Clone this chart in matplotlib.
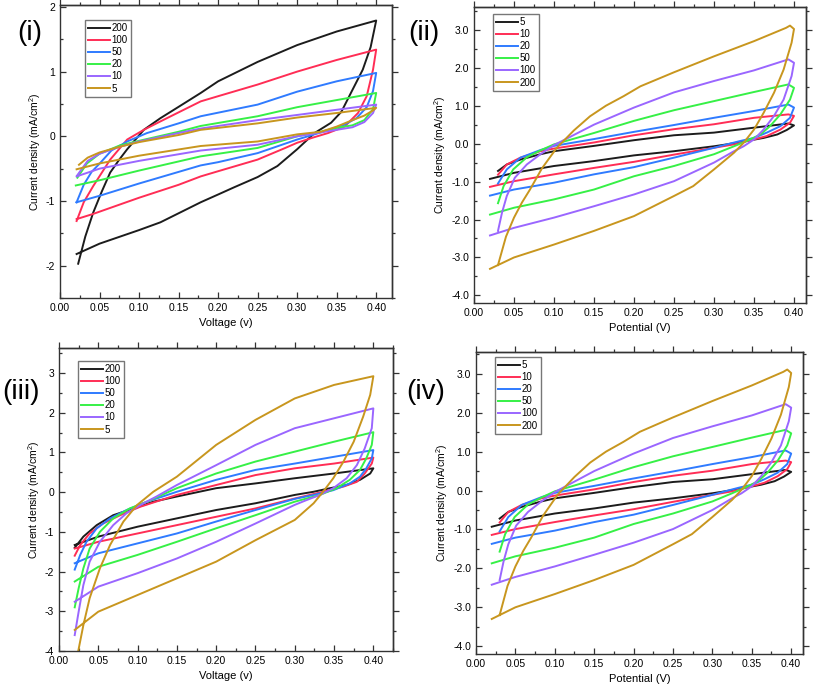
import matplotlib
matplotlib.use("Agg")
import matplotlib.pyplot as plt
from matplotlib.ticker import MultipleLocator, FormatStrFormatter

plt.rcParams['font.family'] = ['Liberation Sans', 'DejaVu Sans']
plt.rcParams['mathtext.default'] = 'regular'

# ---------------- colours per legend label ----------------
C_BLACK = '#1c1c1c'
C_RED = '#ff2d55'
C_BLUE = '#2f7bff'
C_GREEN = '#36f046'
C_PURPLE = '#9a66ff'
C_GOLD = '#c8961e'

# ---------------- Panel (i): scan rates 200,100,50,20,10,5 ----------------
P1_LABELS = ['200', '100', '50', '20', '10', '5']
P1_200_X = [0.023, 0.032, 0.042, 0.053, 0.0635, 0.075, 0.085, 0.106, 0.127, 0.148, 0.178, 0.2, 0.25, 0.3, 0.35, 0.4,
            0.393, 0.383, 0.368, 0.356, 0.343, 0.322, 0.3, 0.275, 0.25, 0.22, 0.2, 0.178, 0.127, 0.1, 0.05, 0.021]
P1_200_Y = [-1.97, -1.55, -1.18, -0.85, -0.56, -0.36, -0.2, 0.10, 0.28, 0.44, 0.67, 0.85, 1.15, 1.41, 1.62, 1.79,
            1.38, 1.03, 0.67, 0.38, 0.21, 0.05, -0.2, -0.46, -0.63, -0.79, -0.9, -1.02, -1.33, -1.45, -1.66, -1.82]
P1_100_X = [0.021, 0.03, 0.042, 0.0635, 0.085, 0.106, 0.127, 0.15, 0.178, 0.2, 0.25, 0.3, 0.35, 0.4,
            0.396, 0.388, 0.377, 0.36, 0.339, 0.32, 0.3, 0.285, 0.25, 0.2, 0.178, 0.15, 0.1, 0.042, 0.021]
P1_100_Y = [-1.31, -1.02, -0.77, -0.36, -0.05, 0.1, 0.23, 0.37, 0.54, 0.62, 0.8, 1.0, 1.18, 1.34,
            1.03, 0.62, 0.36, 0.15, 0.05, -0.02, -0.1, -0.18, -0.36, -0.54, -0.62, -0.75, -0.95, -1.2, -1.28]
P1_50_X = [0.021, 0.03, 0.04, 0.051, 0.065, 0.085, 0.11, 0.15, 0.178, 0.25, 0.3, 0.35, 0.4,
           0.396, 0.388, 0.375, 0.36, 0.35, 0.33, 0.3, 0.25, 0.2, 0.178, 0.1, 0.05, 0.021]
P1_50_Y = [-1.02, -0.75, -0.55, -0.41, -0.22, -0.08, 0.05, 0.2, 0.31, 0.49, 0.69, 0.85, 0.98,
           0.7, 0.45, 0.28, 0.18, 0.14, 0.06, -0.05, -0.26, -0.4, -0.45, -0.73, -0.92, -1.02]
P1_20_X = [0.022, 0.034, 0.05, 0.076, 0.1, 0.15, 0.178, 0.25, 0.3, 0.35, 0.4,
           0.396, 0.385, 0.37, 0.35, 0.33, 0.3, 0.25, 0.178, 0.1, 0.05, 0.02]
P1_20_Y = [-0.64, -0.42, -0.27, -0.14, -0.07, 0.07, 0.16, 0.31, 0.45, 0.56, 0.67,
           0.42, 0.25, 0.17, 0.13, 0.07, 0.0, -0.18, -0.31, -0.53, -0.68, -0.76]
P1_10_X = [0.022, 0.035, 0.05, 0.076, 0.1, 0.15, 0.178, 0.25, 0.3, 0.35, 0.4,
           0.396, 0.385, 0.37, 0.35, 0.3, 0.25, 0.178, 0.1, 0.05, 0.021]
P1_10_Y = [-0.6, -0.38, -0.27, -0.16, -0.08, 0.05, 0.12, 0.25, 0.33, 0.41, 0.49,
           0.36, 0.22, 0.14, 0.1, 0.0, -0.13, -0.22, -0.38, -0.5, -0.62]
P1_5_X = [0.024, 0.035, 0.05, 0.076, 0.1, 0.15, 0.178, 0.25, 0.3, 0.35, 0.4,
          0.396, 0.385, 0.37, 0.35, 0.33, 0.3, 0.25, 0.178, 0.1, 0.05, 0.021]
P1_5_Y = [-0.44, -0.33, -0.25, -0.16, -0.09, 0.02, 0.1, 0.2, 0.29, 0.36, 0.44,
          0.4, 0.32, 0.25, 0.15, 0.07, 0.03, -0.08, -0.15, -0.3, -0.42, -0.51]

# ---------------- Panels (ii) and (iv): scan rates 5..200 ----------------
P2_LABELS = ['5', '10', '20', '50', '100', '200']
P2_5_X = [0.03, 0.041, 0.058, 0.083, 0.1, 0.15, 0.2, 0.25, 0.3, 0.35, 0.393, 0.4,
          0.391, 0.379, 0.362, 0.341, 0.316, 0.3, 0.25, 0.2, 0.15, 0.1, 0.05, 0.02]
P2_5_Y = [-0.72, -0.55, -0.42, -0.28, -0.2, -0.06, 0.09, 0.22, 0.29, 0.42, 0.53, 0.48,
          0.36, 0.24, 0.15, 0.07, -0.02, -0.07, -0.2, -0.31, -0.46, -0.59, -0.77, -0.93]
P2_10_X = [0.03, 0.041, 0.058, 0.083, 0.1, 0.15, 0.2, 0.25, 0.3, 0.35, 0.393, 0.4,
           0.395, 0.383, 0.366, 0.35, 0.325, 0.3, 0.25, 0.2, 0.15, 0.1, 0.05, 0.02]
P2_10_Y = [-0.82, -0.55, -0.37, -0.2, -0.13, 0.03, 0.22, 0.38, 0.51, 0.68, 0.77, 0.73,
           0.55, 0.37, 0.2, 0.11, -0.02, -0.11, -0.29, -0.48, -0.64, -0.81, -0.99, -1.14]
P2_20_X = [0.03, 0.041, 0.058, 0.083, 0.1, 0.15, 0.2, 0.25, 0.3, 0.35, 0.393, 0.4,
           0.395, 0.383, 0.366, 0.35, 0.333, 0.316, 0.3, 0.25, 0.2, 0.15, 0.1, 0.05, 0.02]
P2_20_Y = [-1.05, -0.68, -0.37, -0.17, -0.06, 0.12, 0.31, 0.49, 0.68, 0.86, 1.03, 0.95,
           0.68, 0.46, 0.29, 0.15, 0.07, -0.02, -0.11, -0.37, -0.62, -0.81, -1.03, -1.21, -1.37]
P2_50_X = [0.03, 0.037, 0.049, 0.066, 0.083, 0.1, 0.15, 0.2, 0.25, 0.3, 0.35, 0.393, 0.4,
           0.395, 0.383, 0.37, 0.358, 0.341, 0.325, 0.3, 0.25, 0.2, 0.15, 0.1, 0.05, 0.02]
P2_50_Y = [-1.57, -1.12, -0.68, -0.36, -0.18, -0.02, 0.28, 0.6, 0.88, 1.12, 1.36, 1.56, 1.47,
           1.16, 0.77, 0.46, 0.24, 0.07, -0.07, -0.28, -0.59, -0.86, -1.21, -1.47, -1.69, -1.87]
P2_100_X = [0.03, 0.035, 0.041, 0.051, 0.066, 0.083, 0.1, 0.15, 0.2, 0.25, 0.3, 0.35, 0.393, 0.4,
            0.397, 0.387, 0.375, 0.362, 0.35, 0.337, 0.325, 0.3, 0.25, 0.2, 0.15, 0.1, 0.05, 0.02]
P2_100_Y = [-2.3, -1.82, -1.38, -0.9, -0.55, -0.28, -0.04, 0.5, 0.95, 1.35, 1.65, 1.93, 2.22, 2.13,
            1.78, 1.16, 0.73, 0.37, 0.11, -0.07, -0.2, -0.5, -0.99, -1.34, -1.65, -1.95, -2.22, -2.42]
P2_200_X = [0.03, 0.04, 0.05, 0.06, 0.07, 0.085, 0.1035, 0.125, 0.145, 0.165, 0.187, 0.208, 0.25, 0.3, 0.35,
            0.39, 0.395, 0.4,
            0.397, 0.387, 0.375, 0.362, 0.35, 0.337, 0.325, 0.3, 0.274, 0.25, 0.2, 0.15, 0.1, 0.05, 0.02]
P2_200_Y = [-3.2, -2.45, -1.95, -1.55, -1.21, -0.65, -0.11, 0.35, 0.72, 1.0, 1.25, 1.51, 1.88, 2.3, 2.7,
            3.05, 3.11, 3.02,
            2.66, 1.95, 1.34, 0.81, 0.37, 0.02, -0.24, -0.68, -1.12, -1.38, -1.91, -2.3, -2.66, -3.0, -3.3]

# ---------------- Panel (iii): scan rates 200..5 ----------------
P3_LABELS = ['200', '100', '50', '20', '10', '5']
P3_200_X = [0.02, 0.031, 0.048, 0.069, 0.095, 0.12, 0.15, 0.2, 0.25, 0.3, 0.35, 0.4,
            0.396, 0.383, 0.366, 0.345, 0.324, 0.3, 0.25, 0.2, 0.15, 0.1, 0.05, 0.02]
P3_200_Y = [-1.4, -1.12, -0.83, -0.58, -0.41, -0.24, -0.11, 0.1, 0.22, 0.35, 0.47, 0.6,
            0.47, 0.31, 0.18, 0.1, 0.01, -0.07, -0.28, -0.45, -0.66, -0.87, -1.12, -1.33]
P3_100_X = [0.02, 0.027, 0.039, 0.056, 0.078, 0.103, 0.15, 0.2, 0.25, 0.3, 0.35, 0.4,
            0.398, 0.389, 0.379, 0.362, 0.336, 0.3, 0.25, 0.2, 0.15, 0.1, 0.05, 0.02]
P3_100_Y = [-1.6, -1.33, -1.04, -0.79, -0.58, -0.37, -0.07, 0.18, 0.43, 0.6, 0.72, 0.87,
            0.72, 0.47, 0.26, 0.14, 0.01, -0.16, -0.41, -0.62, -0.83, -1.04, -1.25, -1.42]
P3_50_X = [0.02, 0.027, 0.035, 0.048, 0.065, 0.086, 0.112, 0.15, 0.2, 0.25, 0.3, 0.35, 0.4,
           0.398, 0.391, 0.383, 0.37, 0.349, 0.324, 0.3, 0.25, 0.2, 0.15, 0.1, 0.05, 0.02]
P3_50_Y = [-1.95, -1.58, -1.25, -0.91, -0.66, -0.45, -0.24, 0.01, 0.31, 0.56, 0.72, 0.89, 1.06,
           0.85, 0.6, 0.39, 0.22, 0.05, -0.07, -0.17, -0.45, -0.74, -1.04, -1.29, -1.54, -1.79]
P3_20_X = [0.02, 0.025, 0.031, 0.039, 0.052, 0.069, 0.09, 0.112, 0.15, 0.2, 0.25, 0.3, 0.35, 0.4,
           0.398, 0.391, 0.383, 0.37, 0.353, 0.332, 0.3, 0.25, 0.2, 0.15, 0.1, 0.05, 0.02]
P3_20_Y = [-2.9, -2.42, -1.92, -1.42, -1.0, -0.66, -0.41, -0.24, 0.1, 0.47, 0.77, 1.02, 1.27, 1.51,
           1.19, 0.85, 0.56, 0.31, 0.1, -0.07, -0.24, -0.58, -0.91, -1.25, -1.58, -1.88, -2.25]
P3_10_X = [0.02, 0.025, 0.031, 0.039, 0.052, 0.069, 0.086, 0.103, 0.124, 0.15, 0.2, 0.25, 0.3, 0.35, 0.4,
           0.398, 0.389, 0.379, 0.366, 0.349, 0.332, 0.315, 0.3, 0.25, 0.2, 0.15, 0.1, 0.05, 0.02]
P3_10_Y = [-3.6, -3.01, -2.34, -1.75, -1.25, -0.83, -0.53, -0.33, -0.11, 0.18, 0.68, 1.19, 1.61, 1.86, 2.11,
           1.61, 1.1, 0.68, 0.35, 0.1, -0.07, -0.2, -0.32, -0.79, -1.25, -1.67, -2.04, -2.38, -2.76]
P3_5_X = [0.024, 0.031, 0.039, 0.052, 0.065, 0.082, 0.099, 0.12, 0.15, 0.2, 0.25, 0.3, 0.35, 0.4,
          0.396, 0.387, 0.375, 0.362, 0.349, 0.336, 0.324, 0.3, 0.25, 0.2, 0.15, 0.1, 0.05, 0.02]
P3_5_Y = [-4.05, -3.35, -2.67, -1.92, -1.33, -0.74, -0.33, 0.01, 0.39, 1.19, 1.82, 2.36, 2.7, 2.92,
          2.45, 1.9, 1.27, 0.77, 0.35, 0.01, -0.28, -0.7, -1.21, -1.75, -2.17, -2.59, -3.01, -3.47]

X_TICKS = [0.00, 0.05, 0.10, 0.15, 0.20, 0.25, 0.30, 0.35, 0.40]

W, H = 813, 697
fig = plt.figure(figsize=(W / 100, H / 100), dpi=100)


def px_axes(left, top, right, bottom):
    return fig.add_axes([left / W, 1 - bottom / H, (right - left) / W, (bottom - top) / H])


def style(ax, xlim, ylim, ymaj, yfmt, xlabel):
    ax.set_xlim(*xlim)
    ax.set_ylim(*ylim)
    ax.set_xticks(X_TICKS)
    ax.xaxis.set_major_formatter(FormatStrFormatter('%.2f'))
    ax.xaxis.set_minor_locator(MultipleLocator(0.025))
    ax.yaxis.set_major_locator(MultipleLocator(ymaj))
    ax.yaxis.set_minor_locator(MultipleLocator(ymaj / 2))
    ax.yaxis.set_major_formatter(FormatStrFormatter(yfmt))
    ax.tick_params(which='both', direction='in', top=False, right=False, labelsize=7.5,
                   width=0.9, color='#333333')
    ax.tick_params(which='major', length=4)
    ax.tick_params(which='minor', length=2.5)
    sec_x = ax.secondary_xaxis('top')
    sec_x.set_xticks(X_TICKS)
    sec_x.xaxis.set_minor_locator(MultipleLocator(0.025))
    sec_x.tick_params(which='both', direction='out', labeltop=False, width=0.9, color='#333333')
    sec_x.tick_params(which='major', length=4)
    sec_x.tick_params(which='minor', length=2.5)
    sec_y = ax.secondary_yaxis('right')
    sec_y.yaxis.set_major_locator(MultipleLocator(ymaj))
    sec_y.yaxis.set_minor_locator(MultipleLocator(ymaj / 2))
    sec_y.tick_params(which='both', direction='out', labelright=False, width=0.9, color='#333333')
    sec_y.tick_params(which='major', length=4)
    sec_y.tick_params(which='minor', length=2.5)
    for s in list(ax.spines.values()) + [sec_x.spines['top'], sec_y.spines['right']]:
        s.set_linewidth(1.0)
        s.set_color('#333333')
    ax.set_xlabel(xlabel, fontsize=8, labelpad=4)
    ax.set_ylabel('Current density (mA/cm$^{2}$)', fontsize=7.5, labelpad=2)


def draw(ax, series, labels, colors, leg_px):
    for (xs, ys), lab, c in zip(series, labels, colors):
        ax.plot(xs, ys, color=c, lw=1.4, label=lab, solid_joinstyle='round')
    ax.legend(loc='upper left', bbox_to_anchor=(leg_px[0] / W, 1 - leg_px[1] / H),
              bbox_transform=fig.transFigure, borderaxespad=0, fontsize=7,
              handlelength=2.3, handletextpad=0.15, labelspacing=0.22, borderpad=0.3,
              frameon=True, fancybox=False, framealpha=1, edgecolor='#777777')
    ax.get_legend().get_frame().set_linewidth(1.0)


cols_desc = [C_BLACK, C_RED, C_BLUE, C_GREEN, C_PURPLE, C_GOLD]

# (i)
ax1 = px_axes(60, 5, 392, 298)
style(ax1, (0, 0.42), (-2.5, 2.03), 1, '%d', 'Voltage (v)')
draw(ax1, [(P1_200_X, P1_200_Y), (P1_100_X, P1_100_Y), (P1_50_X, P1_50_Y),
           (P1_20_X, P1_20_Y), (P1_10_X, P1_10_Y), (P1_5_X, P1_5_Y)],
     P1_LABELS, cols_desc, (85, 20))

# (ii)
ax2 = px_axes(474, 7, 806, 303)
style(ax2, (0, 0.415), (-4.2, 3.6), 1.0, '%.1f', 'Potential (V)')
P2_SERIES = [(P2_5_X, P2_5_Y), (P2_10_X, P2_10_Y), (P2_20_X, P2_20_Y),
             (P2_50_X, P2_50_Y), (P2_100_X, P2_100_Y), (P2_200_X, P2_200_Y)]
draw(ax2, P2_SERIES, P2_LABELS, cols_desc, (493, 14))

# (iii)
ax3 = px_axes(59, 348, 393, 651)
style(ax3, (0, 0.425), (-4, 3.63), 1, '%d', 'Voltage (v)')
draw(ax3, [(P3_200_X, P3_200_Y), (P3_100_X, P3_100_Y), (P3_50_X, P3_50_Y),
           (P3_20_X, P3_20_Y), (P3_10_X, P3_10_Y), (P3_5_X, P3_5_Y)],
     P3_LABELS, cols_desc, (78, 361))

# (iv)
ax4 = px_axes(476, 352, 803, 654)
style(ax4, (0, 0.415), (-4.2, 3.56), 1.0, '%.1f', 'Potential (V)')
draw(ax4, P2_SERIES, P2_LABELS, cols_desc, (495, 357))

# panel labels
for txt, x, y in [('(i)', 17, 33), ('(ii)', 408, 33), ('(iii)', 2, 392), ('(iv)', 406, 392)]:
    fig.text(x / W, 1 - y / H, txt, fontsize=20, ha='left', va='center')

fig.savefig('out.png', dpi=100)
